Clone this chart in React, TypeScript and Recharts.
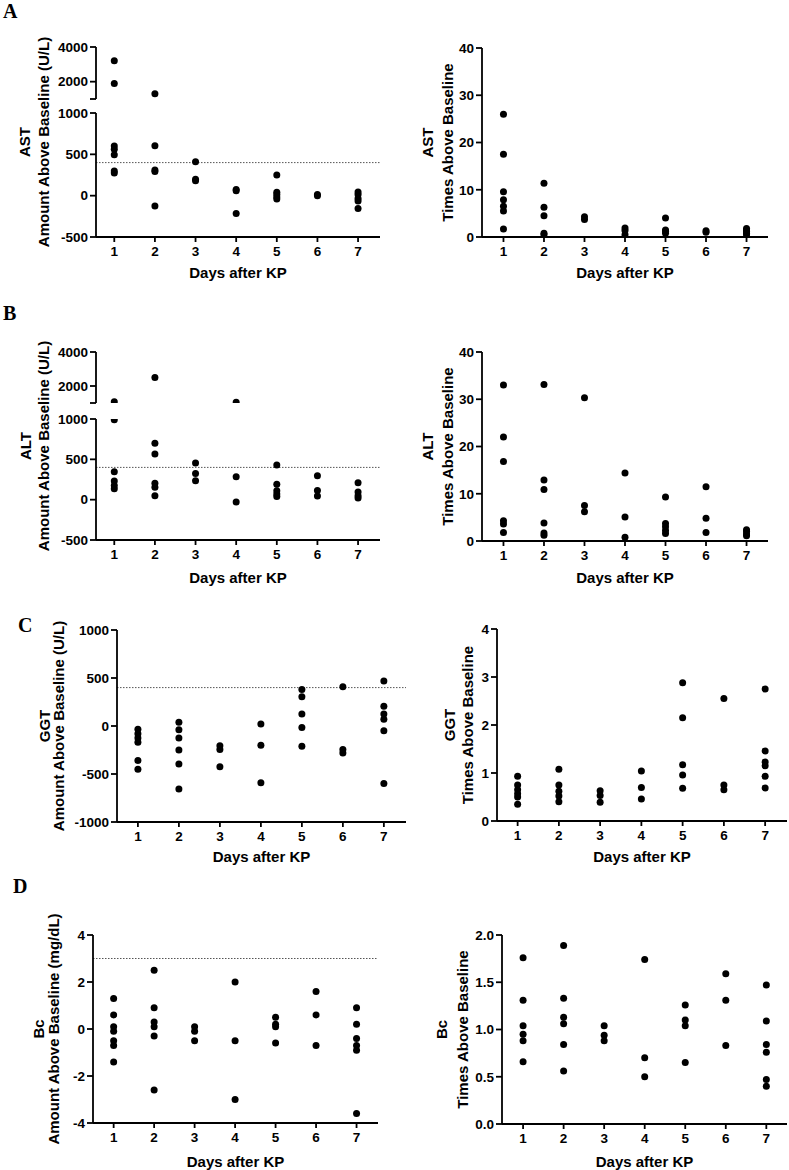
import { ScatterChart, Scatter, XAxis, YAxis, ReferenceLine } from "recharts";

// days after KP (x categories)
const days = [1, 2, 3, 4, 5, 6, 7];

// values per day
const astAmount = [
    [3200, 1900, 600, 560, 495, 298, 274],
    [1300, 605, 310, 292, -125],
    [410, 200, 180],
    [75, 58, -215],
    [250, 40, 15, -15, -40],
    [15, 0],
    [45, 15, -35, -65, -155],
];
const astTimes = [
    [26, 17.5, 9.6, 7.9, 6.5, 5.5, 1.7],
    [11.4, 6.3, 4.5, 0.8, 0.5],
    [4.3, 3.7],
    [1.9, 1.4, 0.5],
    [4.0, 1.5, 1.2, 0.8],
    [1.3, 1.0],
    [1.8, 1.5, 1.2, 0.8, 0.5],
];
const altAmount = [
    [1080, 990, 345, 230, 175, 135],
    [2500, 700, 565, 205, 155, 50],
    [455, 325, 235],
    [1050, 285, -30],
    [430, 190, 110, 70, 40],
    [295, 115, 45],
    [210, 95, 50, 20],
];
const altTimes = [
    [33, 22, 16.8, 4.3, 3.6, 1.8],
    [33.1, 12.9, 10.9, 3.8, 1.7, 1.2],
    [30.3, 7.5, 6.2],
    [14.4, 5.1, 0.8],
    [9.3, 3.7, 3.0, 2.2, 1.6],
    [11.5, 4.8, 1.8],
    [2.4, 2.0, 1.5, 1.1],
];
const ggtAmount = [
    [-35, -80, -125, -170, -360, -450],
    [40, -40, -125, -250, -395, -655],
    [-205, -245, -425],
    [20, -200, -590],
    [380, 305, 125, -15, -210],
    [410, -245, -280],
    [470, 205, 125, 70, -50, -600],
];
const ggtTimes = [
    [0.93, 0.75, 0.65, 0.57, 0.5, 0.35],
    [1.08, 0.75, 0.62, 0.52, 0.4],
    [0.63, 0.53, 0.39],
    [1.04, 0.7, 0.46],
    [2.88, 2.15, 1.17, 0.96, 0.68],
    [2.55, 0.75, 0.65],
    [2.75, 1.46, 1.23, 1.15, 0.93, 0.69],
];
const bcAmount = [
    [1.3, 0.6, 0.1, -0.1, -0.5, -0.7, -1.4],
    [2.5, 0.9, 0.3, 0.1, -0.3, -2.6],
    [0.1, -0.1, -0.5],
    [2.0, -0.5, -3.0],
    [0.5, 0.2, 0.1, -0.6],
    [1.6, 0.6, -0.7],
    [0.9, 0.2, -0.4, -0.7, -0.9, -3.6],
];
const bcTimes = [
    [1.76, 1.31, 1.04, 0.95, 0.88, 0.66],
    [1.89, 1.33, 1.13, 1.06, 0.84, 0.56],
    [1.04, 0.94, 0.88],
    [1.74, 0.7, 0.5],
    [1.26, 1.1, 1.04, 0.65],
    [1.59, 1.31, 0.83],
    [1.47, 1.09, 0.84, 0.76, 0.47, 0.4],
];

// tick labels
const brokenLowTicks = [-500, 0, 500, 1000];
const brokenHighTicks = [1000, 2000, 4000];
const timesTicks = [0, 10, 20, 30, 40];
const ggtAmountTicks = [-1000, -500, 0, 500, 1000];
const ggtTimesTicks = [0, 1, 2, 3, 4];
const bcAmountTicks = [-4, -2, 0, 2, 4];
const bcTimesTicks = [0, 0.5, 1, 1.5, 2];

const toPoints = (byDay: number[][]) =>
    byDay.flatMap((vals, i) => vals.map(value => ({ day: days[i], value })));

const YW = 60;
const MT = 10;
const MR = 2;
const XH = 48;

const axisStyle = { stroke: '#000', strokeWidth: 1.8 };
const tickStyle = { fontSize: 13.5, fontWeight: 700, fill: '#000' };
const labelStyle = { fontSize: 15, fontWeight: 700, fill: '#000', textAnchor: 'middle' as const };

const Dot = (props: any) => <circle cx={props.cx} cy={props.cy} r={3.5} fill="#000" />;

type PlotProps = {
    points: { day: number; value: number }[];
    axisX: number;
    rightX: number;
    top: number;
    bottom: number;
    xDomain: [number, number];
    yDomain: [number, number];
    yTicks: number[];
    yFormat?: (v: number) => string;
    refY?: number;
    showX?: boolean;
    xLabelGap?: number;
};

function Plot({ points, axisX, rightX, top, bottom, xDomain, yDomain, yTicks, yFormat, refY, showX = true, xLabelGap = 41 }: PlotProps) {
    const plotW = rightX - axisX;
    const plotH = bottom - top;
    const mb = showX ? 0 : 3;
    const width = YW + plotW + MR;
    const height = MT + plotH + (showX ? XH : 0) + mb;

    return (
        <div style={{ position: 'absolute', left: axisX - YW, top: top - MT }}>
            <ScatterChart width={width} height={height} margin={{ top: MT, right: MR, bottom: mb, left: 0 }}>
                <XAxis
                    type="number"
                    dataKey="day"
                    domain={xDomain}
                    ticks={days}
                    interval={0}
                    hide={!showX}
                    height={XH}
                    tickSize={5}
                    tickMargin={4}
                    axisLine={axisStyle}
                    tickLine={axisStyle}
                    tick={tickStyle}
                    allowDataOverflow
                    label={showX ? { value: 'Days after KP', position: 'insideBottom', offset: XH - xLabelGap, style: labelStyle } : undefined}
                />
                <YAxis
                    type="number"
                    dataKey="value"
                    domain={yDomain}
                    ticks={yTicks}
                    interval={0}
                    width={YW}
                    tickSize={6}
                    tickMargin={2}
                    axisLine={axisStyle}
                    tickLine={axisStyle}
                    tick={tickStyle}
                    tickFormatter={yFormat}
                    allowDataOverflow
                />
                {refY !== undefined && (
                    <ReferenceLine y={refY} stroke="#555" strokeWidth={1} strokeDasharray="1.5 1.5" />
                )}
                <Scatter data={points} shape={Dot} isAnimationActive={false} />
            </ScatterChart>
        </div>
    );
}

// a GraphPad style split y axis: two stacked plots sharing the x axis
function BrokenPlot({ byDay, axisX, rightX, highTop, highBottom, lowTop, lowBottom, xDomain, xLabelGap }: any) {
    const pts = toPoints(byDay);
    return (
        <>
            <Plot
                points={pts.filter(p => p.value > 1000)}
                axisX={axisX} rightX={rightX} top={highTop} bottom={highBottom}
                xDomain={xDomain} yDomain={[1000, 4000]} yTicks={brokenHighTicks}
                yFormat={v => (v === 1000 ? '' : String(v))}
                showX={false}
            />
            <Plot
                points={pts.filter(p => p.value <= 1000)}
                axisX={axisX} rightX={rightX} top={lowTop} bottom={lowBottom}
                xDomain={xDomain} yDomain={[-500, 1000]} yTicks={brokenLowTicks}
                refY={400} xLabelGap={xLabelGap}
            />
        </>
    );
}

const yTitles = [
    { l1: 'AST', l2: 'Amount Above Baseline (U/L)', b1: 30, b2: 49, cy: 142 },
    { l1: 'AST', l2: 'Times Above Baseline', b1: 433, b2: 453, cy: 142.5 },
    { l1: 'ALT', l2: 'Amount Above Baseline (U/L)', b1: 31, b2: 49, cy: 446 },
    { l1: 'ALT', l2: 'Times Above Baseline', b1: 433, b2: 453, cy: 446.5 },
    { l1: 'GGT', l2: 'Amount Above Baseline (U/L)', b1: 50, b2: 64, cy: 726 },
    { l1: 'GGT', l2: 'Times Above Baseline', b1: 455, b2: 473, cy: 725 },
    { l1: 'Bc', l2: 'Amount Above Baseline (mg/dL)', b1: 43.5, b2: 59, cy: 1029 },
    { l1: 'Bc', l2: 'Times Above Baseline', b1: 447, b2: 468, cy: 1029.5 },
];

const panelLetters = [
    { t: 'A', x: 3, y: 18 },
    { t: 'B', x: 3, y: 320 },
    { t: 'C', x: 18, y: 632 },
    { t: 'D', x: 13, y: 893 },
];

export default function App() {
    return (
        <div style={{ position: 'absolute', left: 0, top: 0, width: 789, height: 1170, background: '#fff', fontFamily: '"Liberation Sans", Arial, sans-serif', overflow: 'hidden' }}>
            {/* A */}
            <BrokenPlot byDay={astAmount} axisX={96} rightX={380} highTop={47} highBottom={99} lowTop={113} lowBottom={237} xDomain={[0.55, 7.54]} xLabelGap={41} />
            <Plot points={toPoints(astTimes)} axisX={482} rightX={768} top={48} bottom={237} xDomain={[0.47, 7.53]} yDomain={[0, 40]} yTicks={timesTicks} xLabelGap={41} />

            {/* B */}
            <BrokenPlot byDay={altAmount} axisX={96} rightX={380} highTop={352} highBottom={403} lowTop={419} lowBottom={540} xDomain={[0.55, 7.54]} xLabelGap={43} />
            <Plot points={toPoints(altTimes)} axisX={482} rightX={768} top={352} bottom={541} xDomain={[0.47, 7.53]} yDomain={[0, 40]} yTicks={timesTicks} xLabelGap={42} />

            {/* C */}
            <Plot points={toPoints(ggtAmount)} axisX={117} rightX={406} top={630} bottom={822} xDomain={[0.49, 7.54]} yDomain={[-1000, 1000]} yTicks={ggtAmountTicks} refY={400} xLabelGap={40} />
            <Plot points={toPoints(ggtTimes)} axisX={497} rightX={787} top={629} bottom={821} xDomain={[0.5, 7.53]} yDomain={[0, 4]} yTicks={ggtTimesTicks} xLabelGap={41} />

            {/* D */}
            <Plot points={toPoints(bcAmount)} axisX={93} rightX={378} top={935} bottom={1123} xDomain={[0.49, 7.53]} yDomain={[-4, 4]} yTicks={bcAmountTicks} refY={3} xLabelGap={44} />
            <Plot points={toPoints(bcTimes)} axisX={502} rightX={787} top={935} bottom={1124} xDomain={[0.48, 7.51]} yDomain={[0, 2]} yTicks={bcTimesTicks} yFormat={v => v.toFixed(1)} xLabelGap={43} />

            <svg width={789} height={1170} style={{ position: 'absolute', left: 0, top: 0, pointerEvents: 'none' }}>
                {yTitles.map((t, i) => (
                    <g key={i} fontSize={15} fontWeight={700} fill="#000">
                        <text transform={`translate(${t.b1},${t.cy}) rotate(-90)`} textAnchor="middle">{t.l1}</text>
                        <text transform={`translate(${t.b2},${t.cy}) rotate(-90)`} textAnchor="middle">{t.l2}</text>
                    </g>
                ))}
                {panelLetters.map(p => (
                    <text key={p.t} x={p.x} y={p.y} fontSize={20} fontWeight={700} fontFamily='"Liberation Serif", "Times New Roman", serif' fill="#000">
                        {p.t}
                    </text>
                ))}
            </svg>
        </div>
    );
}
